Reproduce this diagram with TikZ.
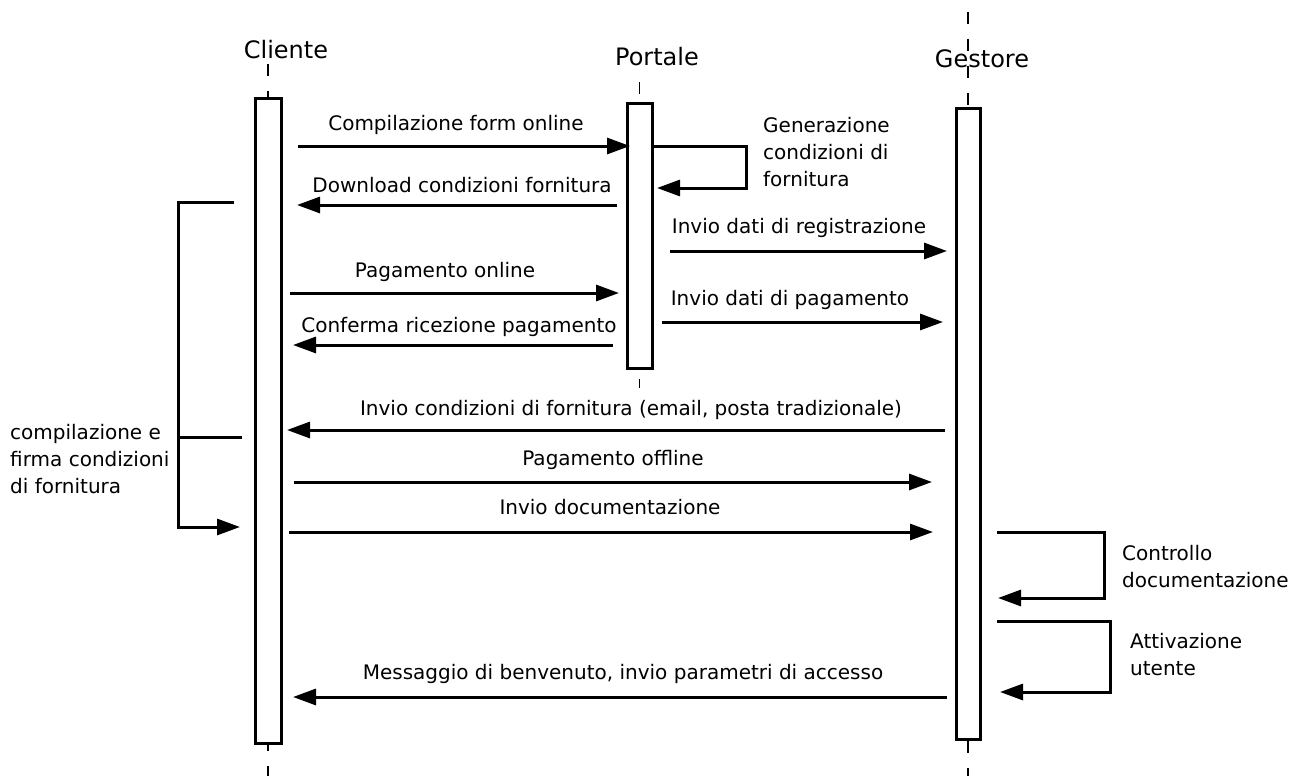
\documentclass[tikz,border=0pt]{standalone}
\usepackage{fontspec}
\setmainfont{DejaVu Sans}
\usetikzlibrary{arrows.meta}
\begin{document}
\begin{tikzpicture}[x=1pt,y=-1pt,
  msg/.style={line width=3pt, -{Triangle[length=23pt,width=16pt]}},
  plainline/.style={line width=3pt},
  lifeline/.style={line width=1.8pt, dash pattern=on 12pt off 15pt},
  actbox/.style={draw, line width=3pt, fill=white, inner sep=0pt, outer sep=0pt},
  lbl/.style={font=\fontsize{20}{27}\selectfont, inner sep=0pt, anchor=base},
  mlbl/.style={font=\fontsize{20}{27}\selectfont, inner sep=0pt, anchor=north west, align=left},
  hdr/.style={font=\fontsize{24}{28}\selectfont, inner sep=0pt, anchor=base}]
\useasboundingbox (0,0) rectangle (1293,776);

% headers
\node[hdr] (hcl) at (286,59) {Cliente};
\node[hdr] (hpo) at (657,66) {Portale};
\node[hdr] (hge) at (982,67) {Gestore};

% lifelines
\coordinate (clTop) at (268,64);  \coordinate (clBot) at (268,776);
\coordinate (poTop) at (639.5,82); \coordinate (poBot) at (639.5,388);
\coordinate (geTop) at (968,12);  \coordinate (geBot) at (968,776);
\draw[lifeline] (clTop) -- (clBot);
\draw[lifeline] (poTop) -- (poBot);
\draw[lifeline] (geTop) -- (geBot);

% activation boxes
\node[actbox, minimum width=26pt, minimum height=645pt] (clbox) at (268,420.5) {};
\node[actbox, minimum width=25pt, minimum height=265pt] (pobox) at (639.5,235.5) {};
\node[actbox, minimum width=24pt, minimum height=631pt] (gebox) at (968,423.5) {};

% message endpoints
\coordinate (m1s) at (298,146);  \coordinate (m1e) at (630,146);
\coordinate (m2s) at (617,205);  \coordinate (m2e) at (297,205);
\coordinate (s1a) at (654,146);  \coordinate (s1b) at (746,146);
\coordinate (s1c) at (746,188);  \coordinate (s1d) at (657,188);
\coordinate (m4s) at (670,251);  \coordinate (m4e) at (947,251);
\coordinate (m5s) at (290,293);  \coordinate (m5e) at (619,293);
\coordinate (m6s) at (662,322);  \coordinate (m6e) at (943,322);
\coordinate (m7s) at (613,345);  \coordinate (m7e) at (293,345);
\coordinate (m8s) at (945,430);  \coordinate (m8e) at (287,430);
\coordinate (m9s) at (294,482);  \coordinate (m9e) at (932,482);
\coordinate (m10s) at (289,532); \coordinate (m10e) at (933,532);
\coordinate (s2a) at (997,532);  \coordinate (s2b) at (1104,532);
\coordinate (s2c) at (1104,598); \coordinate (s2d) at (998,598);
\coordinate (s3a) at (997,621);  \coordinate (s3b) at (1110,621);
\coordinate (s3c) at (1110,692); \coordinate (s3d) at (1000,692);
\coordinate (m13s) at (947,697); \coordinate (m13e) at (293,697);
\coordinate (bA) at (234,202); \coordinate (bB) at (178,202);
\coordinate (bC) at (178,527); \coordinate (bD) at (240,527);
\coordinate (bE) at (178,437); \coordinate (bF) at (242,437);

% messages
\draw[msg] (m1s) -- (m1e);
\draw[msg] (m2s) -- (m2e);
\draw[msg] (s1a) -- (s1b) -- (s1c) -- (s1d);
\draw[msg] (m4s) -- (m4e);
\draw[msg] (m5s) -- (m5e);
\draw[msg] (m6s) -- (m6e);
\draw[msg] (m7s) -- (m7e);
\draw[msg] (m8s) -- (m8e);
\draw[msg] (m9s) -- (m9e);
\draw[msg] (m10s) -- (m10e);
\draw[msg] (s2a) -- (s2b) -- (s2c) -- (s2d);
\draw[msg] (s3a) -- (s3b) -- (s3c) -- (s3d);
\draw[msg] (m13s) -- (m13e);
\draw[msg] (bA) -- (bB) -- (bC) -- (bD);
\draw[plainline] (bE) -- (bF);

% labels
\node[lbl] (l1) at (456,130) {Compilazione form online};
\node[lbl] (l2) at (462,192) {Download condizioni fornitura};
\node[mlbl] (l3) at (763,117) {Generazione\\condizioni di\\fornitura};
\node[lbl] (l4) at (799,233) {Invio dati di registrazione};
\node[lbl] (l5) at (445,277) {Pagamento online};
\node[lbl] (l6) at (790,305) {Invio dati di pagamento};
\node[lbl] (l7) at (459,332) {Conferma ricezione pagamento};
\node[lbl] (l8) at (631,415) {Invio condizioni di fornitura (email, posta tradizionale)};
\node[lbl] (l9) at (613,465) {Pagamento offline};
\node[lbl] (l10) at (610,514) {Invio documentazione};
\node[mlbl] (l11) at (1122,545) {Controllo\\documentazione};
\node[mlbl] (l12) at (1130,633) {Attivazione\\utente};
\node[lbl] (l13) at (623,679) {Messaggio di benvenuto, invio parametri di accesso};
\node[mlbl] (l14) at (10,424) {compilazione e\\firma condizioni\\di fornitura};
\end{tikzpicture}
\end{document}
